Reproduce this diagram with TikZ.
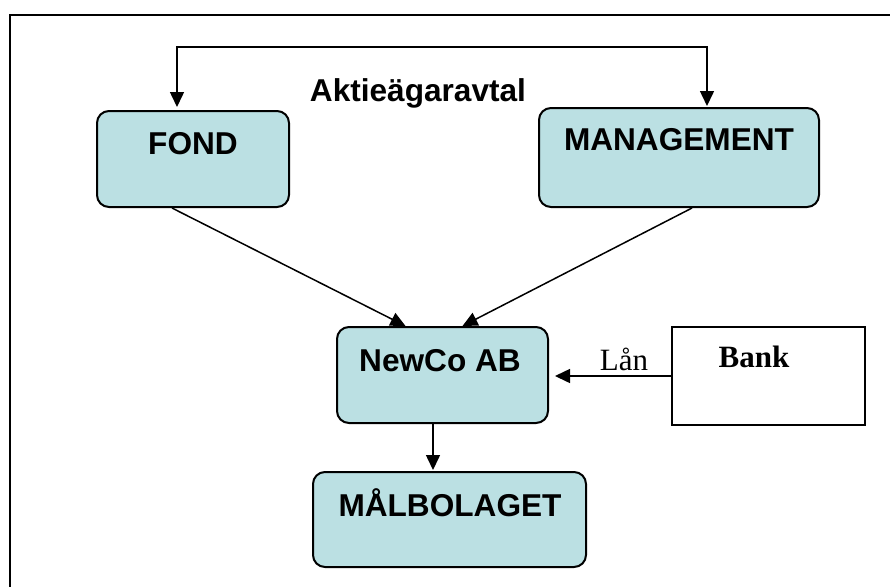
\documentclass[tikz,border=0pt]{standalone}
\usepackage{fontspec}
\setmainfont{Liberation Serif}
\setsansfont{Liberation Sans}
\usetikzlibrary{arrows.meta,calc}
\definecolor{boxfill}{RGB}{187,224,227}
\tikzset{
  bluebox/.style={draw=black, line width=2pt, fill=boxfill, rounded corners=12pt, inner sep=0pt},
  whitebox/.style={draw=black, line width=1.5pt, fill=white, inner sep=0pt},
  lbl/.style={font=\sffamily\bfseries\fontsize{31.6}{36}\selectfont, inner sep=0pt},
  serifl/.style={font=\rmfamily\fontsize{31}{36}\selectfont, inner sep=0pt},
  arr/.style={line width=1.5pt, -{Triangle[length=15pt,width=14pt]}},
}
\begin{document}
\begin{tikzpicture}[x=1pt,y=-1pt]
\useasboundingbox (0,0) rectangle (890,587);
\draw[line width=2.2pt] (890,15) -- (10,15) -- (10,587);

\node[bluebox, minimum width=192pt, minimum height=96pt] (fond) at (193,159) {};
\node[bluebox, minimum width=280pt, minimum height=99pt] (mgmt) at (679,157.5) {};
\node[bluebox, minimum width=211pt, minimum height=96pt] (newco) at (442.5,375) {};
\node[bluebox, minimum width=273pt, minimum height=95pt] (mal) at (449.5,519.5) {};
\node[whitebox, minimum width=193pt, minimum height=98pt] (bank) at (768.5,376) {};

\node[lbl] (fondt) at (193,144) {FOND};
\node[lbl] (mgmtt) at (679,140) {MANAGEMENT};
\node[lbl] (newcot) at (440,361) {NewCo AB};
\node[lbl] (malt) at (450,503) {MÅLBOLAGET};
\node[lbl] (avtal) at (418,93) {Aktieägaravtal};
\node[serifl, font=\rmfamily\bfseries\fontsize{31}{36}\selectfont] (bankt) at (754,357) {Bank};
\node[serifl] (lan) at (624,359) {Lån};

\draw[line width=1.5pt, {Triangle[length=15pt,width=14pt]}-{Triangle[length=15pt,width=14pt]}, shorten <=3pt, shorten >=1pt]
  ([xshift=-16pt]fond.north) -- ++(0,-63) -| ([xshift=28pt]mgmt.north);
\draw[arr] ([xshift=-21pt]fond.south) -- ([xshift=-37pt]newco.north);
\draw[arr] ([xshift=13pt]mgmt.south) -- ([xshift=20pt]newco.north);
\draw[arr, shorten >=6pt] (bank.west) -- (bank.west -| newco.east);
\draw[arr, shorten >=1pt] ([xshift=-9.5pt]newco.south) -- ([xshift=-9.5pt]newco.south |- mal.north);
\end{tikzpicture}
\end{document}
